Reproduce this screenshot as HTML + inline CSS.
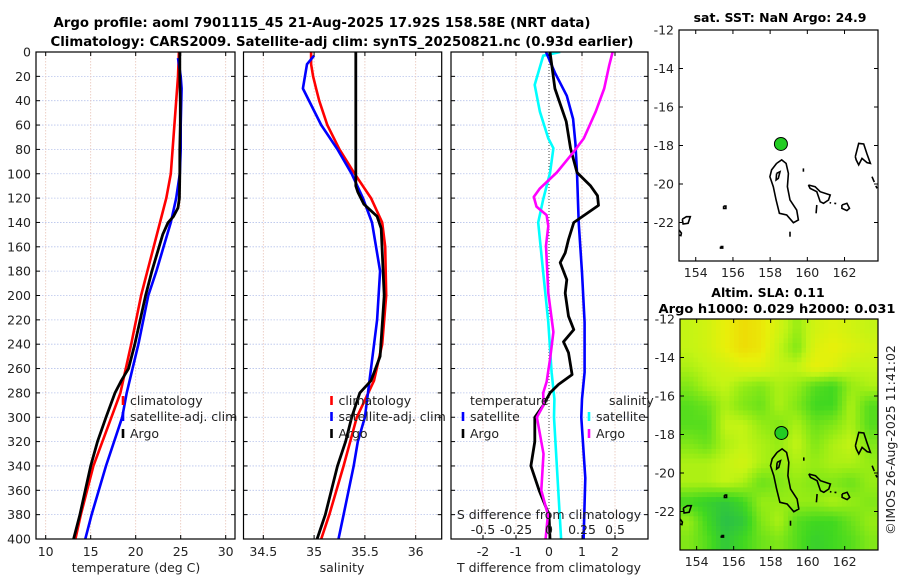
<!DOCTYPE html>
<html><head><meta charset="utf-8"><style>
html,body{margin:0;padding:0;background:#fff;}
svg{display:block;font-family:"DejaVu Sans","Liberation Sans",sans-serif;}
</style></head><body>
<svg id="fig" width="900" height="580" viewBox="0 0 900 580" xmlns="http://www.w3.org/2000/svg">
<defs>
<clipPath id="c1"><rect x="36" y="52" width="199" height="487"/></clipPath>
<clipPath id="c2"><rect x="243.5" y="52" width="198" height="487"/></clipPath>
<clipPath id="c3"><rect x="451" y="52" width="197" height="487"/></clipPath>
<clipPath id="cm1"><rect x="679" y="30" width="199" height="231"/></clipPath>
<clipPath id="cm2"><rect x="680" y="319" width="198" height="231"/></clipPath>
</defs>
<text x="322" y="27" text-anchor="middle" font-weight="bold" font-size="13" textLength="537" lengthAdjust="spacingAndGlyphs">Argo profile: aoml 7901115_45 21-Aug-2025 17.92S 158.58E (NRT data)</text>
<text x="342" y="46" text-anchor="middle" font-weight="bold" font-size="13" textLength="583" lengthAdjust="spacingAndGlyphs">Climatology: CARS2009. Satellite-adj clim: synTS_20250821.nc (0.93d earlier)</text>
<g id="layer"></g>
</svg>
<script>
// ---- profile data ----
const depthTicks=[0,20,40,60,80,100,120,140,160,180,200,220,240,260,280,300,320,340,360,380,400];
const tempTicks=[10,15,20,25,30];
const salTicks=[34.5,35,35.5,36];
const dtTicks=[-2,-1,0,1,2];
const dsTicks=[-0.5,-0.25,0,0.25,0.5];
const dsTickLabels=["-0.5","-0.25","0","0.25","0.5"];

const tClimDepth=[0,20,40,60,80,100,120,140,160,180,200,240,280,300,340,380,400];
const tClim=[24.8,24.7,24.5,24.3,24.1,23.9,23.4,22.7,22.0,21.3,20.6,19.5,18.3,17.3,15.3,13.9,13.3];
const tSatDepth=[5,20,30,60,80,100,120,140,160,180,200,240,280,300,340,380,400];
const tSat=[24.7,25.0,25.1,25.0,25.0,24.9,24.5,23.9,23.1,22.3,21.4,20.3,19.0,18.5,16.7,15.1,14.4];
const tArgoDepth=[0,20,40,60,80,100,120,128,135,140,150,160,180,200,240,260,270,280,300,320,340,360,380,400];
const tArgo=[24.9,24.9,24.95,24.95,24.9,24.9,24.85,24.7,24.2,23.6,23.0,22.6,21.8,21.1,19.9,19.2,18.4,17.7,16.7,15.75,15.0,14.4,13.8,13.1];

const sClimDepth=[0,10,20,30,40,60,80,100,120,140,160,200,240,270,300,340,380,400];
const sClim=[34.97,34.97,34.99,35.02,35.05,35.13,35.25,35.40,35.56,35.67,35.70,35.71,35.67,35.59,35.42,35.29,35.15,35.07];
const sSatDepth=[3,10,30,60,80,100,120,140,180,220,260,300,320,340,380,400];
const sSat=[35.0,34.93,34.89,35.07,35.23,35.37,35.48,35.57,35.65,35.62,35.56,35.5,35.43,35.39,35.29,35.24];
const sArgoDepth=[0,110,115,125,135,145,200,250,270,280,300,320,340,360,380,400];
const sArgo=[35.41,35.41,35.43,35.49,35.62,35.66,35.69,35.65,35.56,35.45,35.37,35.31,35.23,35.17,35.11,35.03];

const dtArgoDepth=[0,30,57,79,99,110,118,126,140,154,165,173,187,198,217,228,238,247,265,273,280,290,300,320,340,360,380,400];
const dtArgo=[0.03,0.18,0.52,0.65,0.85,1.26,1.47,1.5,0.75,0.59,0.49,0.34,0.54,0.49,0.59,0.75,0.44,0.59,0.70,0.29,0.03,-0.17,-0.43,-0.43,-0.55,-0.3,0,0.03];
const dtSatDepth=[0,17,36,55,75,99,140,181,222,263,285,300,350,400];
const dtSat=[-0.09,0.18,0.54,0.73,0.80,0.85,0.90,1.0,1.08,1.08,1.0,0.98,1.1,1.05];
const dsSatDepth=[0,3,27,49,71,79,99,121,140,181,222,263,285,300,400];
const dsSat=[0.085,-0.044,-0.108,-0.069,-0.005,0.033,0.008,-0.044,-0.082,-0.044,-0.005,0.02,0.041,0.038,0.092];
const dsArgoDepth=[0,11,30,49,71,82,99,112,119,127,134,143,159,198,230,252,271,280,290,300,330,360,380,400];
const dsArgo=[0.482,0.456,0.418,0.354,0.264,0.187,0.059,-0.069,-0.115,-0.095,-0.018,-0.005,-0.023,-0.005,0.033,0.008,-0.018,-0.044,-0.042,-0.092,-0.042,-0.058,-0.008,-0.026];

// ---- map data ----
const latTicks=[-12,-14,-16,-18,-20,-22];
const lonTicks=[154,156,158,160,162];
const argoLon=158.58, argoLat=-17.92;
const slaGrid=[
[0.6,0.65,0.75,0.85,0.8,0.65,0.5,0.65,0.7,0.65,0.6],
[0.6,0.65,0.75,0.85,0.8,0.6,0.45,0.7,0.75,0.7,0.65],
[0.55,0.6,0.65,0.7,0.7,0.6,0.6,0.75,0.7,0.6,0.6],
[0.45,0.55,0.6,0.5,0.45,0.55,0.5,0.35,0.3,0.5,0.55],
[0.35,0.4,0.55,0.45,0.4,0.55,0.45,0.3,0.3,0.55,0.35],
[0.35,0.35,0.6,0.6,0.5,0.45,0.55,0.4,0.45,0.55,0.35],
[0.45,0.4,0.55,0.6,0.55,0.5,0.6,0.45,0.55,0.6,0.45],
[0.55,0.55,0.6,0.65,0.55,0.5,0.55,0.5,0.55,0.55,0.5],
[0.55,0.55,0.6,0.55,0.4,0.45,0.5,0.45,0.45,0.4,0.5],
[0.3,0.25,0.2,0.3,0.5,0.5,0.5,0.5,0.55,0.5,0.45],
[0.5,0.3,0.15,0.2,0.45,0.55,0.35,0.3,0.3,0.4,0.5],
[0.45,0.35,0.2,0.3,0.4,0.45,0.35,0.25,0.3,0.35,0.45]];
const coasts=[
 [[158.35,-18.93],[158.62,-18.75],[158.86,-18.93],[158.98,-19.45],[158.93,-20.14],[159.07,-20.83],[159.43,-21.35],[159.52,-21.87],[159.25,-22.01],[158.89,-21.61],[158.5,-21.52],[158.32,-20.83],[158.17,-20.14],[157.99,-19.62],[158.08,-19.27],[158.35,-18.93]],
 [[158.35,-19.45],[158.53,-19.36],[158.44,-19.71],[158.32,-19.79],[158.35,-19.45]],
 [[162.58,-18.58],[162.76,-17.89],[163.03,-17.92],[163.21,-18.44],[163.39,-18.93],[163.21,-18.89],[162.94,-18.67],[162.76,-19.01],[162.63,-18.75],[162.58,-18.58]],
 [[160.06,-20.05],[160.42,-20.14],[160.69,-20.4],[161.23,-20.57],[161.14,-20.83],[160.87,-21.0],[160.69,-20.92],[160.51,-20.4],[160.15,-20.23],[160.06,-20.05]],
 [[161.86,-21.09],[162.13,-21.0],[162.27,-21.26],[162.13,-21.38],[161.86,-21.26],[161.86,-21.09]],
 [[161.2,-20.97],[161.28,-20.98]],[[161.45,-21.0],[161.55,-21.02]],
 [[160.51,-21.09],[160.47,-21.52]],[[159.07,-22.48],[159.07,-22.74]],[[159.79,-19.19],[159.79,-19.36]],
 [[155.5,-21.15],[155.62,-21.15],[155.62,-21.27],[155.5,-21.27],[155.5,-21.15]],
 [[153.28,-21.83],[153.5,-21.7],[153.71,-21.7],[153.59,-22.04],[153.32,-22.08],[153.28,-21.83]],
 [[153.1,-22.39],[153.23,-22.55],[153.2,-22.68],[153.1,-22.65]],
 [[155.33,-23.25],[155.45,-23.25],[155.45,-23.33],[155.33,-23.33],[155.33,-23.25]],
 [[163.48,-19.62],[163.6,-19.9]],[[163.68,-20.1],[163.75,-20.23]]
];

const NS="http://www.w3.org/2000/svg";
const layer=document.getElementById('layer');
function mk(tag,attrs,parent){const e=document.createElementNS(NS,tag);for(const k in attrs)e.setAttribute(k,attrs[k]);(parent||layer).appendChild(e);return e;}

const PT=52,PB=539;
const yD=d=>PT+d*1.2175;
const xT=t=>45.7+(t-10)*9.0;
const xS=s=>263.3+(s-34.5)*101.6;
const xDT=v=>549+v*33;
const xDS=v=>549+v*132;
const panels=[{l:36,r:235,clip:'c1',name:'temperature-panel'},{l:243.5,r:441.7,clip:'c2',name:'salinity-panel'},{l:451,r:648,clip:'c3',name:'difference-panel'}];

function grid(p,xs){
  const g=mk('g',{});
  
  
  depthTicks.forEach(d=>{if(d>0&&d<400){const l=mk('line',{x1:p.l,x2:p.r,y1:yD(d),y2:yD(d),stroke:'#b8c4ec','stroke-width':0.8,'stroke-dasharray':'1.5,1.5'},g);
    }});
  xs.forEach(x=>{const l=mk('line',{x1:x,x2:x,y1:PT,y2:PB,stroke:'#e8c4b8','stroke-width':0.8,'stroke-dasharray':'1.5,1.5'},g);
    });
}
function frame(p,xs){
  const r=mk('rect',{x:p.l,y:PT,width:p.r-p.l,height:PB-PT,fill:'none',stroke:'#000','stroke-width':1.2});
  
  depthTicks.forEach(d=>{
    const a=mk('line',{x1:p.l,x2:p.l+4,y1:yD(d),y2:yD(d),stroke:'#000'});
    const b=mk('line',{x1:p.r-4,x2:p.r,y1:yD(d),y2:yD(d),stroke:'#000'});
  });
  xs.forEach(x=>{
    const a=mk('line',{x1:x,x2:x,y1:PB-4,y2:PB,stroke:'#000'});
    const b=mk('line',{x1:x,x2:x,y1:PT,y2:PT+4,stroke:'#000'});
  });
}
function line(p,depths,vals,xf,color,name,w){
  const pts=depths.map((d,i)=>xf(vals[i]).toFixed(1)+','+yD(d).toFixed(1)).join(' ');
  const e=mk('polyline',{points:pts,fill:'none',stroke:color,'stroke-width':w||2.6,'stroke-linejoin':'round','clip-path':'url(#'+p.clip+')'});
  
  
}
function txt(x,y,s,opts,name){const t=mk('text',Object.assign({x:x,y:y,'font-size':12.5,fill:'#222'},opts||{}));t.textContent=s;
  return t;}

// temperature panel
grid(panels[0],tempTicks.map(xT));
line(panels[0],tClimDepth,tClim,xT,'#ff0000','temp-climatology-line');
line(panels[0],tSatDepth,tSat,xT,'#0000ff','temp-satellite-line');
line(panels[0],tArgoDepth,tArgo,xT,'#000','temp-argo-line',2.8);
frame(panels[0],tempTicks.map(xT));
tempTicks.forEach(t=>txt(xT(t),556,String(t),{'text-anchor':'middle'},'temp-tick-label'));
txt(136,572,'temperature (deg C)',{'text-anchor':'middle'},'temp-axis-title');
depthTicks.forEach(d=>txt(31,yD(d)+4.5,String(d),{'text-anchor':'end'},'depth-tick-label'));

// salinity panel
grid(panels[1],salTicks.map(xS));
line(panels[1],sClimDepth,sClim,xS,'#ff0000','sal-climatology-line');
line(panels[1],sSatDepth,sSat,xS,'#0000ff','sal-satellite-line');
line(panels[1],sArgoDepth,sArgo,xS,'#000','sal-argo-line',2.8);
frame(panels[1],salTicks.map(xS));
salTicks.forEach(s=>txt(xS(s),556,String(s),{'text-anchor':'middle'},'sal-tick-label'));
txt(342,572,'salinity',{'text-anchor':'middle'},'sal-axis-title');

// difference panel
grid(panels[2],dtTicks.filter(v=>v!==0).map(xDT));
const zl=mk('line',{x1:xDT(0),x2:xDT(0),y1:PT,y2:PB,stroke:'#444','stroke-width':1,'stroke-dasharray':'1,2'});

line(panels[2],dsSatDepth,dsSat,xDS,'#00ffff','sal-diff-satellite-line');
line(panels[2],dtSatDepth,dtSat,xDT,'#0000ff','temp-diff-satellite-line');
line(panels[2],dtArgoDepth,dtArgo,xDT,'#000','temp-diff-argo-line',2.8);
line(panels[2],dsArgoDepth,dsArgo,xDS,'#ff00ff','sal-diff-argo-line');
frame(panels[2],dtTicks.map(xDT));
dtTicks.forEach(v=>txt(xDT(v),556,String(v),{'text-anchor':'middle'},'temp-diff-tick-label'));
txt(549,572,'T difference from climatology',{'text-anchor':'middle'},'temp-diff-axis-title');
txt(549,519,'S difference from climatology',{'text-anchor':'middle'},'sal-diff-axis-title');
dsTicks.forEach((v,i)=>txt(xDS(v),534,dsTickLabels[i],{'text-anchor':'middle'},'sal-diff-tick-label'));

// legends
function legItem(x,y,color,label,name){
  const m=mk('line',{x1:x,x2:x,y1:y-9,y2:y,stroke:color,'stroke-width':2.6});
  
  txt(x+7,y,label,{},name);
}
[[36+87,'temp'],[243.5+88,'sal']].forEach(([x,p])=>{
  legItem(x,405,'#ff0000','climatology',p+'-legend-climatology');
  legItem(x,421,'#0000ff','satellite-adj. clim',p+'-legend-satellite');
  legItem(x,438,'#000','Argo',p+'-legend-argo');
});
txt(470,405,'temperature',{},'diff-legend-temperature-header');
legItem(463,421,'#0000ff','satellite','diff-legend-temp-satellite');
legItem(463,438,'#000','Argo','diff-legend-temp-argo');
txt(609,405,'salinity',{},'diff-legend-salinity-header');
legItem(589,421,'#00ffff','satellite','diff-legend-sal-satellite');
legItem(589,438,'#ff00ff','Argo','diff-legend-sal-argo');

// ---- maps ----
const LON0=153.1,LON1=163.8,LAT0=-12,LAT1=-24;
function mapFns(l,r,t,b){return {x:lon=>l+(lon-LON0)/(LON1-LON0)*(r-l), y:lat=>t+(lat-LAT0)/(LAT1-LAT0)*(b-t), l,r,t,b};}
const m1=mapFns(679,878,30,261), m2=mapFns(680,878,319,550);
const stops=[[0,[20,168,110]],[0.3,[64,216,32]],[0.5,[150,236,20]],[0.6,[196,244,20]],[0.75,[232,240,10]],[1,[244,190,0]]];
function cmap(v){for(let i=1;i<stops.length;i++){if(v<=stops[i][0]){const a=stops[i-1],b=stops[i],f=(v-a[0])/(b[0]-a[0]);
  return 'rgb('+a[1].map((c,k)=>Math.round(c+(b[1][k]-c)*f)).join(',')+')';}}return 'rgb(244,190,0)';}
// heatmap (bilinear upsampled from slaGrid)
const hm=mk('g',{'clip-path':'url(#cm2)'});

const nR=slaGrid.length,nC=slaGrid[0].length,UP=4;
function sample(fi,fj){
  const i0=Math.max(0,Math.min(nR-1,Math.floor(fi))),j0=Math.max(0,Math.min(nC-1,Math.floor(fj)));
  const i1=Math.min(nR-1,i0+1),j1=Math.min(nC-1,j0+1);
  const a=Math.max(0,Math.min(1,fi-i0)),b=Math.max(0,Math.min(1,fj-j0));
  return slaGrid[i0][j0]*(1-a)*(1-b)+slaGrid[i1][j0]*a*(1-b)+slaGrid[i0][j1]*(1-a)*b+slaGrid[i1][j1]*a*b;
}
for(let i=0;i<nR*UP;i++)for(let j=0;j<nC*UP;j++){
  const v=sample((i+0.5)/UP-0.5,(j+0.5)/UP-0.5);
  const la=LAT0+(LAT1-LAT0)*i/(nR*UP), la2=LAT0+(LAT1-LAT0)*(i+1)/(nR*UP);
  const lo=LON0+(LON1-LON0)*j/(nC*UP), lo2=LON0+(LON1-LON0)*(j+1)/(nC*UP);
  const c=mk('rect',{x:m2.x(lo),y:m2.y(la),width:m2.x(lo2)-m2.x(lo)+0.6,height:m2.y(la2)-m2.y(la)+0.6,fill:cmap(v)},hm);
  
  
}
[[m1,'cm1','sst-map'],[m2,'cm2','sla-map']].forEach(([m,clip,name])=>{
  const g=mk('g',{'clip-path':'url(#'+clip+')'});
  
  coasts.forEach(c=>{const p=mk('polyline',{points:c.map(q=>m.x(q[0]).toFixed(1)+','+m.y(q[1]).toFixed(1)).join(' '),fill:'none',stroke:'#000','stroke-width':1.6},g);
    });
  const dot=mk('circle',{cx:m.x(argoLon),cy:m.y(argoLat),r:6.5,fill:'#22cc22',stroke:'#000','stroke-width':1});
  
  const fr=mk('rect',{x:m.l,y:m.t,width:m.r-m.l,height:m.b-m.t,fill:'none',stroke:'#000','stroke-width':1.2});
  
  latTicks.forEach(la=>{
    txt(m.l-5,m.y(la)+4.5,String(la),{'text-anchor':'end'},name+'-lat-label');
    const a=mk('line',{x1:m.l,x2:m.l+4,y1:m.y(la),y2:m.y(la),stroke:'#000'});
    const b=mk('line',{x1:m.r-4,x2:m.r,y1:m.y(la),y2:m.y(la),stroke:'#000'});
  });
  lonTicks.forEach(lo=>{
    txt(m.x(lo),m.b+16,String(lo),{'text-anchor':'middle'},name+'-lon-label');
    const a=mk('line',{x1:m.x(lo),x2:m.x(lo),y1:m.b-4,y2:m.b,stroke:'#000'});
    const b=mk('line',{x1:m.x(lo),x2:m.x(lo),y1:m.t,y2:m.t+4,stroke:'#000'});
  });
});
txt(780,22,'sat. SST: NaN Argo: 24.9',{'text-anchor':'middle','font-weight':'bold',fill:'#000'},'sst-map-title');
txt(768,297,'Altim. SLA: 0.11',{'text-anchor':'middle','font-weight':'bold',fill:'#000'},'sla-map-title');
txt(777,313,'Argo h1000: 0.029 h2000: 0.031',{'text-anchor':'middle','font-weight':'bold',fill:'#000',textLength:237,lengthAdjust:'spacingAndGlyphs'},'sla-map-subtitle');
txt(0,0,'\u00a9IMOS 26-Aug-2025 11:41:02',{'text-anchor':'middle',transform:'translate(895,440) rotate(-90)'},'imos-credit');
</script>
</body></html>
